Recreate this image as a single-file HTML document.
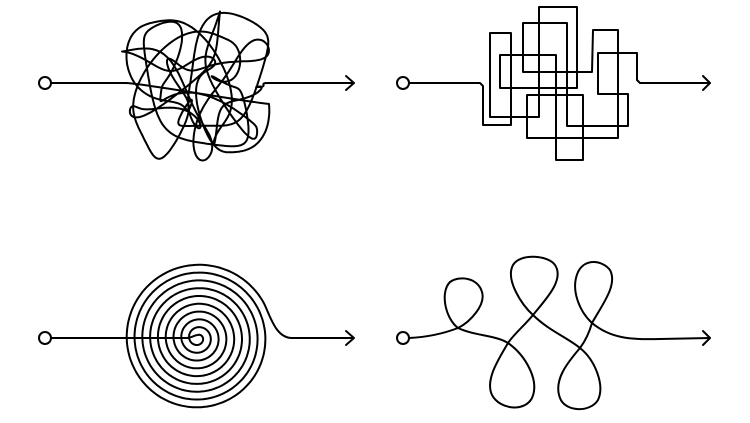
<!DOCTYPE html>
<html><head><meta charset="utf-8"><style>html,body{margin:0;padding:0;background:#fff}svg{display:block}</style></head>
<body>
<svg id="s" width="750" height="423" viewBox="0 0 750 423" xmlns="http://www.w3.org/2000/svg" fill="none" stroke="#000" stroke-width="2" stroke-linecap="round" stroke-linejoin="round">
<!-- top-left -->
<circle cx="45" cy="83" r="6"/>
<path d="M51 83 H126 M268 83 H354 M346 76 L354 83 L346 90"/>
<path id="scr"/>
<!-- top-right -->
<circle cx="403" cy="83" r="6"/>
<polyline points="409,83 480,83 483,86 483,125 511,125 511,33 490,33 490,117 539,117 539,7 577,7 577,88 500,88 500,55 556,55 556,160 583,160 583,95 527,95 527,138 618,138 618,30 593,30 592,72 523,72 523,23 567,23 567,126 628,126 628,94 598,94 598,53 637,53 637,80 640,83 710,83"/>
<path d="M703 76 L710 83 L703 90"/>
<!-- bottom-left -->
<circle cx="45" cy="338" r="6"/>
<path id="sp"/>
<path d="M292 338 H354 M346 331 L354 338 L346 345"/>
<!-- bottom-right -->
<circle cx="403" cy="338" r="6"/>
<path d="M409 338 C430 337 445 333 458 328 C470 322 486 305 482 292 C478 278 460 275 450 282 C440 292 445 318 458 328 C475 336 495 335 508 343 C525 355 540 380 532 398 C525 412 500 410 492 395 C485 380 498 360 508 343 C515 333 525 325 533 315 C545 300 565 280 555 265 C548 255 520 253 513 265 C505 280 522 305 533 315 C548 330 568 338 580 348 C595 360 605 385 598 400 C590 413 565 412 560 398 C553 380 568 362 580 348 C586 340 590 330 592 323 C602 305 618 285 610 270 C602 260 585 258 578 272 C570 290 580 312 592 323 C610 338 630 340 660 339 L710 338"/>
<path d="M703 331 L710 338 L703 345"/>
</svg>
<script>
(function(){
 var cx=198,cy=338,d="M51 338 L186 338 C192 338 194 335 198 335";
 var th0=-Math.PI/2, turns=9.18, end=th0+turns*2*Math.PI, sp=7.8;
 for(var t=th0;t<=end;t+=0.04){
  var r=3+(t-th0)/(2*Math.PI)*sp;
  d+=" L"+(cx+r*Math.cos(t)).toFixed(1)+" "+(cy+r*Math.sin(t)).toFixed(1);
 }
 var r=3+turns*sp, x=cx+r*Math.cos(end), y=cy+r*Math.sin(end);
 var tx=-Math.sin(end), ty=Math.cos(end);
 d+=" C"+(x+12*tx).toFixed(1)+" "+(y+12*ty).toFixed(1)+" 276 338 292 338";
 document.getElementById('sp').setAttribute('d',d);
 function P(t){
  return [197+45*Math.sin(0.37*t+1.2)+26*Math.cos(t)+4*Math.cos(2.3*t),
          86+46*Math.sin(0.53*t+0.4)+26*Math.sin(t)+4*Math.sin(2.7*t)];
 }
 var t0=0,t1=88,p=P(t0);
 var s="M126 83 C140 83 "+(p[0]-10).toFixed(1)+" "+p[1].toFixed(1)+" "+p[0].toFixed(1)+" "+p[1].toFixed(1);
 for(var t=t0;t<=t1;t+=0.05){p=P(t);s+=" L"+p[0].toFixed(1)+" "+p[1].toFixed(1);}
 s+=" C"+(p[0]+15).toFixed(1)+" "+p[1].toFixed(1)+" 257 83 268 83";
 document.getElementById('scr').setAttribute('d',s);
})();
</script>
</body></html>
